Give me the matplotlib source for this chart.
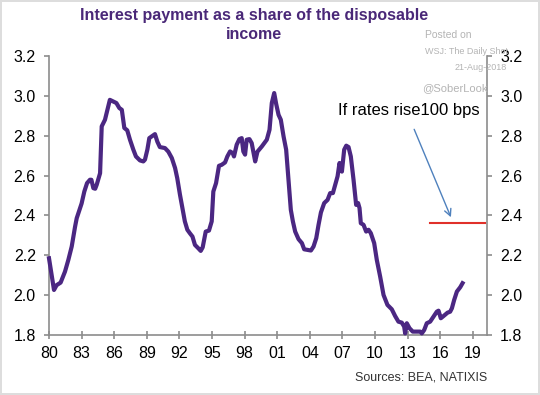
import matplotlib
matplotlib.use("Agg")
import matplotlib.pyplot as plt

plt.rcParams['font.family'] = ['Liberation Sans', 'DejaVu Sans']

years = [1980.0, 1980.46, 1980.7, 1981.07, 1981.47, 1981.78, 1982.09, 1982.4, 1982.55, 1982.8,
         1983.0, 1983.25, 1983.5, 1983.77, 1983.9, 1984.08, 1984.25, 1984.39, 1984.7, 1984.85,
         1985.15, 1985.37, 1985.6, 1985.9, 1986.2, 1986.47, 1986.7, 1986.93, 1987.2, 1987.45,
         1987.76, 1988.0, 1988.37, 1988.68, 1988.83, 1989.05, 1989.23, 1989.54, 1989.75, 1989.97,
         1990.2, 1990.67, 1990.98, 1991.3, 1991.6, 1991.8, 1992.05, 1992.3, 1992.5, 1992.73,
         1992.97, 1993.2, 1993.43, 1993.74, 1993.96, 1994.14, 1994.42, 1994.72, 1994.97, 1995.12,
         1995.37, 1995.64, 1995.89, 1996.2, 1996.41, 1996.66, 1996.9, 1997.02, 1997.27, 1997.52,
         1997.73, 1997.88, 1998.04, 1998.19, 1998.44, 1998.65, 1998.97, 1999.18, 1999.58, 2000.04,
         2000.29, 2000.5, 2000.72, 2000.9, 2001.12, 2001.33, 2001.58, 2001.82, 2002.04, 2002.25,
         2002.44, 2002.65, 2002.96, 2003.27, 2003.48, 2003.79, 2004.1, 2004.34, 2004.59, 2004.8,
         2005.02, 2005.32, 2005.63, 2005.87, 2006.12, 2006.33, 2006.55, 2006.73, 2006.95, 2007.16,
         2007.35, 2007.56, 2007.77, 2008.02, 2008.26, 2008.44, 2008.57, 2008.69, 2008.94, 2009.18,
         2009.4, 2009.61, 2009.92, 2010.16, 2010.47, 2010.78, 2011.14, 2011.54, 2011.85, 2012.15,
         2012.46, 2012.68, 2012.77, 2012.92, 2013.17, 2013.47, 2013.84, 2014.15, 2014.3, 2014.52,
         2014.76, 2015.07, 2015.38, 2015.68, 2015.84, 2016.05, 2016.3, 2016.67, 2016.91, 2017.07,
         2017.28, 2017.53, 2017.84, 2018.05]

share = [2.185, 2.026, 2.05, 2.063, 2.118, 2.177, 2.244, 2.344, 2.386, 2.428,
         2.46, 2.52, 2.562, 2.579, 2.579, 2.537, 2.534, 2.554, 2.612, 2.847,
         2.88, 2.93, 2.98, 2.972, 2.964, 2.939, 2.93, 2.839, 2.827, 2.78,
         2.73, 2.696, 2.676, 2.671, 2.68, 2.73, 2.788, 2.80, 2.808, 2.77,
         2.743, 2.738, 2.72, 2.688, 2.638, 2.587, 2.504, 2.428, 2.37, 2.328,
         2.31, 2.294, 2.252, 2.235, 2.222, 2.24, 2.319, 2.324, 2.37, 2.52,
         2.562, 2.649, 2.654, 2.666, 2.696, 2.721, 2.713, 2.696, 2.755, 2.783,
         2.788, 2.721, 2.705, 2.78, 2.783, 2.763, 2.671, 2.72, 2.746, 2.78,
         2.83, 2.964, 3.014, 2.96, 2.905, 2.88, 2.797, 2.73, 2.579, 2.428,
         2.37, 2.319, 2.281, 2.261, 2.23, 2.227, 2.224, 2.244, 2.286, 2.353,
         2.415, 2.462, 2.478, 2.512, 2.512, 2.554, 2.596, 2.663, 2.62, 2.73,
         2.75, 2.743, 2.696, 2.579, 2.453, 2.462, 2.437, 2.361, 2.353, 2.319,
         2.328, 2.311, 2.261, 2.177, 2.093, 2.001, 1.951, 1.929, 1.895, 1.867,
         1.862, 1.842, 1.808, 1.859, 1.834, 1.817, 1.817, 1.817, 1.808, 1.825,
         1.859, 1.867, 1.892, 1.917, 1.922, 1.884, 1.895, 1.912, 1.917, 1.934,
         1.976, 2.018, 2.04, 2.06]

scenario_years = [2015.07, 2020.14]
scenario_level = [2.361, 2.361]

arrow_start = (2013.5, 2.845)
arrow_end = (2017.08, 2.378)

xtick_years = [1980, 1983, 1986, 1989, 1992, 1995, 1998, 2001, 2004, 2007, 2010, 2013, 2016, 2019]
xtick_labels = ['80', '83', '86', '89', '92', '95', '98', '01', '04', '07', '10', '13', '16', '19']
yticks = [1.8, 2.0, 2.2, 2.4, 2.6, 2.8, 3.0, 3.2]

fig = plt.figure(figsize=(5.4, 3.95), dpi=100)
fig.patch.set_facecolor('white')
fig.patch.set_edgecolor('#dddddd')
fig.patch.set_linewidth(1.5)

ax = fig.add_axes([49/540, 1 - 335/395, (487 - 49)/540, (335 - 56)/395])
ax.plot(years, share, color='#4b2782', lw=3.0, solid_joinstyle='round', clip_on=False, zorder=3)
ax.plot(scenario_years, scenario_level, color='#e0302a', lw=1.5, zorder=3)
ax.annotate('', xy=arrow_end, xytext=arrow_start,
            arrowprops=dict(arrowstyle='->', color='#4f81bd', lw=1.0, mutation_scale=12))
ax.text(2006.6, 2.926, 'If rates rise100 bps', fontsize=12, color='black', ha='left', va='center')

ax.set_xlim(1980, 2020.3)
ax.set_ylim(1.8, 3.2)
ax.set_xticks(xtick_years)
ax.set_xticklabels(xtick_labels)
ax.set_yticks(yticks)
ax.set_yticklabels([f'{v:.1f}' for v in yticks])

gray = '#8c8c8c'
for s in ['left', 'right', 'bottom']:
    ax.spines[s].set_color(gray)
    ax.spines[s].set_linewidth(1.2)
ax.spines['top'].set_visible(False)

ax.tick_params(axis='y', which='both', left=True, right=True, labelleft=True, labelright=True,
               direction='out', length=3.5, width=1.2, color=gray, labelsize=11.5, pad=6)
ax.tick_params(axis='x', direction='inout', length=6, width=1.2, color=gray, labelsize=11.5, pad=5)

fig.text(254/540, 1 - 8/395, 'Interest payment as a share of the disposable\nincome',
         ha='center', va='top', fontsize=11.5, fontweight='bold', color='#4a2878', linespacing=1.3)

wm = '#b4b4b4'
fig.text(425/540, 1 - 35/395, 'Posted on', fontsize=7.5, color=wm, ha='left', va='center')
fig.text(425/540, 1 - 52/395, 'WSJ: The Daily Shot', fontsize=6.5, color=wm, ha='left', va='center')
fig.text(507/540, 1 - 67/395, '21-Aug-2018', fontsize=6.5, color=wm, ha='right', va='center')
fig.text(422/540, 1 - 88/395, '@SoberLook', fontsize=8, color=wm, ha='left', va='center')

fig.text(487/540, 1 - 377/395, 'Sources: BEA, NATIXIS', fontsize=9, color='#333333', ha='right', va='center')

fig.savefig('out.png', dpi=100, facecolor=fig.get_facecolor(), edgecolor=fig.get_edgecolor())
